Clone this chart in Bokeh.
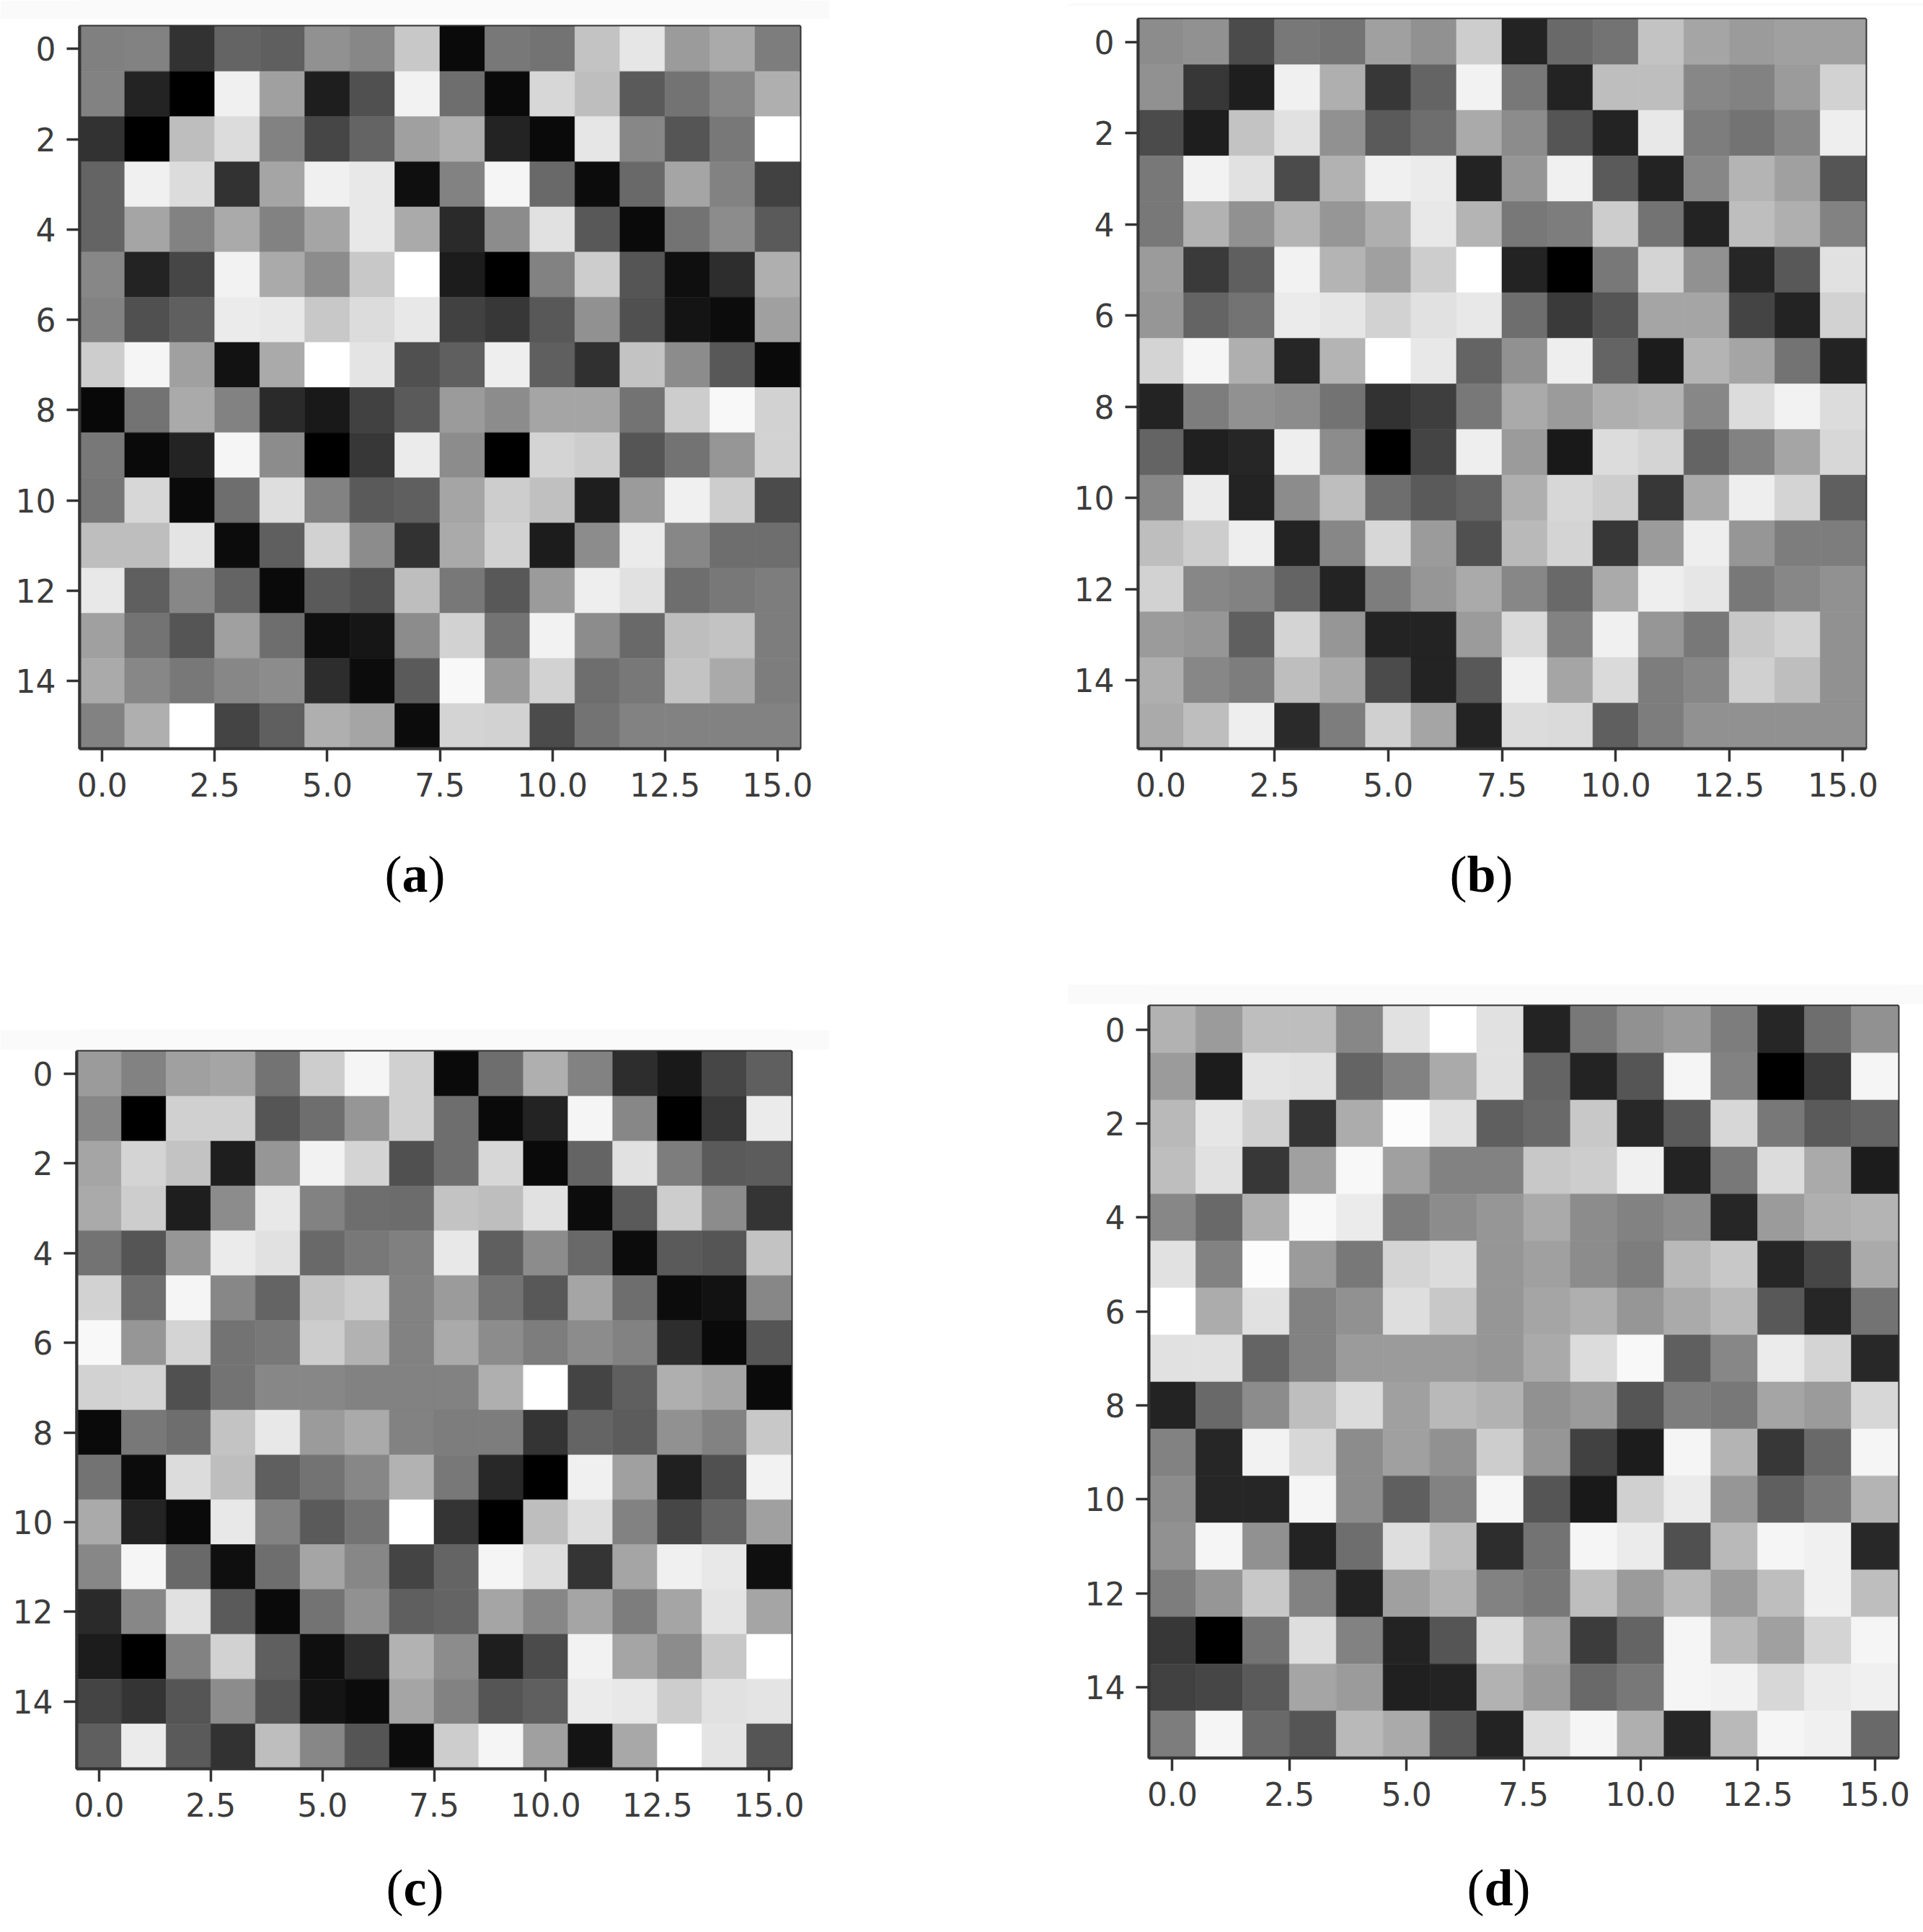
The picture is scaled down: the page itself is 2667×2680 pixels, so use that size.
from bokeh.plotting import figure
from bokeh.layouts import column, row
from bokeh.models import ColumnDataSource, PrintfTickFormatter, FixedTicker, Spacer
from bokeh.core.properties import value
from bokeh.palettes import gray
from bokeh.transform import linear_cmap
from bokeh.embed import file_html
from bokeh.resources import INLINE

x_ticks = [0, 2.5, 5, 7.5, 10, 12.5, 15]
y_ticks = [0, 2, 4, 6, 8, 10, 12, 14]

panel_a = [
[128,130,50,100,95,145,135,200,10,120,115,195,230,155,170,125],
[130,35,0,240,160,30,80,242,110,10,215,190,90,115,135,175],
[50,0,190,220,130,70,100,160,175,35,10,230,135,85,120,255],
[100,240,220,50,165,240,232,15,130,245,105,12,105,165,130,65],
[100,165,130,170,130,165,232,170,42,140,225,88,10,115,140,90],
[135,35,70,242,170,140,200,255,28,0,130,205,85,15,45,175],
[130,80,95,235,232,200,220,232,65,55,88,145,80,20,12,160],
[205,245,160,18,170,255,228,80,95,238,95,48,195,140,88,10],
[8,115,170,130,42,25,65,90,155,140,165,165,115,205,248,210],
[120,10,35,245,140,0,55,235,140,0,212,205,85,115,150,210],
[118,215,10,110,222,130,90,95,165,205,192,30,155,240,205,75],
[190,190,228,12,95,210,140,50,170,210,28,140,235,135,110,110],
[232,95,135,100,10,90,80,190,120,88,155,238,225,110,120,125],
[160,115,85,160,110,15,22,140,210,115,242,140,105,190,195,125],
[170,135,120,135,140,45,12,90,248,155,210,110,120,195,170,125],
[130,175,255,68,95,175,165,12,212,210,75,115,130,130,130,130],
]

panel_b = [
[140,145,75,120,115,160,145,205,35,105,115,195,165,155,160,160],
[145,55,30,240,175,55,100,242,120,35,190,190,135,130,155,210],
[75,30,195,225,145,90,110,170,140,85,35,232,125,115,135,238],
[120,242,225,75,178,240,235,35,150,240,90,35,135,180,160,85],
[120,178,145,180,150,175,232,180,120,125,205,115,35,190,175,130],
[155,58,95,242,180,160,205,255,35,0,120,212,145,38,88,225],
[150,100,115,235,230,210,225,232,110,58,85,165,165,68,35,210],
[212,245,175,38,180,255,232,100,145,238,100,28,180,165,115,35],
[35,125,145,140,115,50,62,120,170,155,175,180,135,220,242,220],
[100,32,38,238,140,0,68,238,155,25,220,212,100,130,165,215],
[135,235,35,140,190,110,90,100,175,215,205,55,170,238,212,95],
[190,205,238,35,135,215,155,80,185,212,55,155,238,150,125,125],
[210,135,130,100,35,125,150,170,135,105,170,238,230,120,135,145],
[155,150,95,212,150,35,35,155,218,130,240,150,120,200,210,145],
[175,135,125,190,170,75,35,88,240,165,218,125,135,208,190,145],
[170,190,238,42,125,208,165,35,220,218,95,125,145,145,145,145],
]

panel_c = [
[155,130,160,165,115,205,245,208,10,110,175,130,45,25,70,95],
[135,0,208,208,85,110,150,208,110,10,35,245,135,0,55,235],
[165,212,195,30,150,242,212,80,110,215,10,100,225,125,90,92],
[170,205,30,140,232,130,110,108,195,190,225,12,90,205,140,52],
[115,85,150,235,225,105,120,128,232,95,140,105,12,90,85,195],
[210,110,245,135,100,195,205,130,155,115,88,165,110,12,18,135],
[248,150,212,115,120,205,178,130,170,140,125,140,130,45,10,85],
[210,212,80,115,135,135,130,130,130,175,255,68,95,175,165,10],
[10,120,110,195,232,155,170,130,125,125,52,100,92,145,130,200],
[115,12,220,190,95,115,135,178,120,40,0,240,160,32,80,242],
[170,35,10,232,130,90,115,255,52,0,190,222,130,70,100,160],
[135,245,105,15,110,165,135,68,100,245,222,52,165,240,232,15],
[42,135,225,90,10,115,145,95,100,165,135,165,125,165,228,165],
[28,0,130,210,95,15,45,178,140,30,75,242,165,140,200,255],
[68,52,85,140,85,20,12,165,130,85,95,235,232,205,225,228],
[95,235,90,50,190,135,85,12,205,245,160,20,168,255,228,85],
]

panel_d = [
[178,155,190,190,135,225,255,225,35,120,145,155,125,38,110,145],
[155,28,228,225,100,130,170,225,100,35,85,245,130,0,58,245],
[185,230,208,52,172,252,225,95,105,200,40,90,215,120,90,100],
[190,225,55,160,248,160,130,130,200,205,240,35,120,220,170,28],
[135,105,175,248,235,125,140,150,170,140,130,140,38,155,175,180],
[225,130,252,155,120,212,220,150,160,140,125,185,200,38,70,170],
[255,172,225,130,145,222,200,150,165,175,150,170,185,88,38,115],
[225,225,100,130,155,155,155,150,170,220,248,95,135,235,212,40],
[35,105,140,190,220,160,185,178,145,155,85,125,120,165,155,215],
[130,38,242,215,140,160,145,205,150,65,28,245,180,55,105,245],
[140,38,38,245,140,95,130,245,85,25,208,235,150,95,120,180],
[145,245,145,35,110,222,190,45,115,245,235,80,185,245,240,40],
[125,150,200,130,35,160,178,130,120,190,155,185,155,190,240,190],
[55,0,115,222,130,35,85,220,165,60,100,245,185,160,212,245],
[65,70,90,165,155,32,35,178,155,105,120,245,242,215,235,240],
[125,245,105,85,185,170,88,35,222,245,175,38,185,245,240,105],
]

AXIS = "#333333"
TICK_TEXT = "#3c3c3c"
BAND = "#fafafa"
palette = gray(256)


def heat(matrix, frame, fig_l, fig_r, fig_t, fig_b):
    fl, fr, ft, fb = frame
    p = figure(width=fig_r - fig_l, height=fig_b - fig_t,
               x_range=(-0.5, 15.5), y_range=(15.5, -0.5),
               output_backend="svg", toolbar_location=None,
               min_border_left=fl - fig_l, min_border_right=fig_r - fr,
               min_border_top=ft - fig_t, min_border_bottom=fig_b - fb)
    xs = [j for i in range(16) for j in range(16)]
    ys = [i for i in range(16) for j in range(16)]
    vals = [matrix[i][j] for i in range(16) for j in range(16)]
    src = ColumnDataSource(dict(x=xs, y=ys, v=vals))
    cmap = linear_cmap("v", palette, low=0, high=255)
    p.rect("x", "y", 1, 1, source=src, fill_color=cmap, line_color=cmap, line_width=0.6)
    p.grid.visible = False
    p.outline_line_color = AXIS
    p.outline_line_width = 4
    p.xaxis.ticker = FixedTicker(ticks=x_ticks)
    p.yaxis.ticker = FixedTicker(ticks=y_ticks)
    p.xaxis.formatter = PrintfTickFormatter(format="%.1f")
    for ax in (p.xaxis[0], p.yaxis[0]):
        ax.axis_line_color = AXIS
        ax.axis_line_width = 4
        ax.major_tick_line_color = AXIS
        ax.major_tick_line_width = 3.5
        ax.major_tick_out = 18
        ax.major_tick_in = 0
        ax.minor_tick_line_color = None
        ax.major_label_text_font = "DejaVu Sans"
        ax.major_label_text_font_size = "44px"
        ax.major_label_text_color = TICK_TEXT
    p.xaxis.major_label_standoff = 15
    p.yaxis.major_label_standoff = 15
    return p


def blank(width, height, fill="white", xr=(0, 1), yr=(0, 1)):
    p = figure(width=width, height=height, x_range=xr, y_range=yr,
               output_backend="svg", toolbar_location=None,
               x_axis_type=None, y_axis_type=None, min_border=0,
               background_fill_color=fill, border_fill_color=fill)
    p.grid.visible = False
    p.outline_line_color = None
    return p


def caption(letter, letter_w, cx, base, col_l, col_r, top, end):
    p = blank(col_r - col_l, end - top, xr=(col_l, col_r), yr=(end, top))
    fs = 72
    half = (letter_w + 0.333) / 2 * fs
    for txt, dx, style in (("(", -half, "normal"), (letter, 0, "bold"), (")", half, "normal")):
        p.text(x=[cx + dx], y=[base], text=[txt], text_font=value("Liberation Serif"),
               text_font_size=f"{fs}px", text_font_style=style, text_color="black",
               text_align="center", text_baseline="alphabetic")
    return p


def stack(matrix, frame, col_l, col_r, row_t, band_t, band_b, row_end):
    """Gap, faint band, heatmap figure; coordinates are in page pixels."""
    kids = []
    if band_t > row_t:
        kids.append(Spacer(width=col_r - col_l, height=band_t - row_t))
    kids.append(blank(col_r - col_l, band_b - band_t, fill=BAND))
    kids.append(heat(matrix, frame, col_l, col_r, band_b, row_end))
    return column(*kids, spacing=0)


LEFT = (0, 1150)
RIGHT = (1480, 2667)
GAP = RIGHT[0] - LEFT[1]
ROW1_END, CAP1_END = 1150, 1330
ROW2_END, CAP2_END = 2565, 2672

top = row(stack(panel_a, (110, 1109, 36, 1038), *LEFT, 0, 0, 26, ROW1_END),
          Spacer(width=GAP, height=10),
          stack(panel_b, (1578, 2587, 26, 1038), *RIGHT, 0, 0, 8, ROW1_END), spacing=0)
cap1 = row(caption("a", 0.5, 575, 1212, *LEFT, ROW1_END, CAP1_END),
           Spacer(width=GAP, height=10),
           caption("b", 0.556, 2054, 1212, *RIGHT, ROW1_END, CAP1_END), spacing=0)
bottom = row(stack(panel_c, (106, 1097, 1458, 2453), *LEFT, CAP1_END, 1428, 1456, ROW2_END),
             Spacer(width=GAP, height=10),
             stack(panel_d, (1593, 2632, 1395, 2438), *RIGHT, CAP1_END, 1365, 1393, ROW2_END), spacing=0)
cap2 = row(caption("c", 0.444, 575, 2618, *LEFT, ROW2_END, CAP2_END),
           Spacer(width=GAP, height=10),
           caption("d", 0.556, 2078, 2618, *RIGHT, ROW2_END, CAP2_END), spacing=0)

layout = column(top, cap1, bottom, cap2, spacing=0)
open("out.html", "w").write(file_html(layout, INLINE))
